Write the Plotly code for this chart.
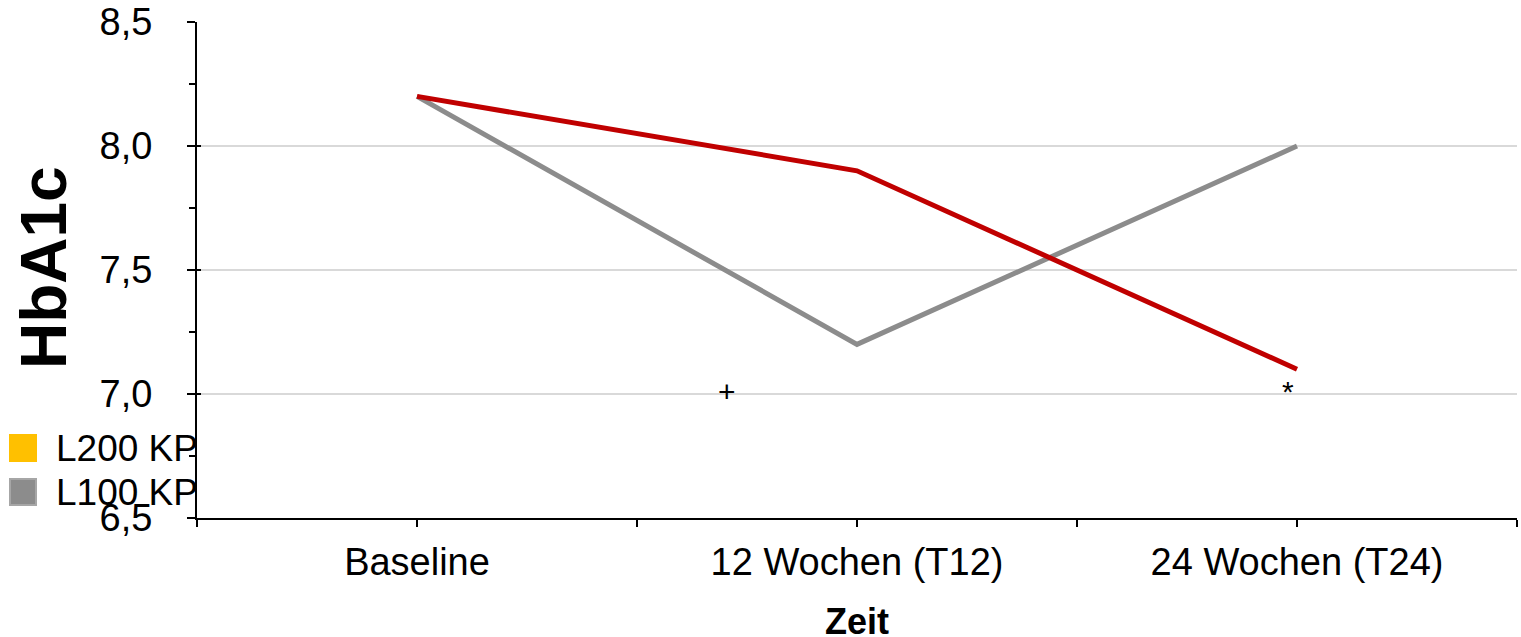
import plotly.graph_objects as go

# ---- data ----
categories = ["Baseline", "12 Wochen (T12)", "24 Wochen (T24)"]
l200_kp = [8.2, 7.9, 7.1]
l100_kp = [8.2, 7.2, 8.0]
legend_names = ["L200 KP", "L100 KP"]
legend_colors = ["#FFC000", "#8C8C8C"]
sig_marks = ["+", "*"]
sig_x = [0.705, 1.98]
sig_y = [7.0, 7.0]
y_ticks = [6.5, 7.0, 7.5, 8.0, 8.5]

W, H = 1521, 637
L, R, T, B = 197, 4, 22, 119
PW, PH = W - L - R, H - T - B

def px_x(px):
    return (px - L) / PW

def px_y(py):
    return (H - B - py) / PH

xs = list(range(len(categories)))
FONT = "Arial, Liberation Sans, sans-serif"

fig = go.Figure()
fig.add_trace(go.Scatter(x=xs, y=l100_kp, mode="lines", name="L100 KP",
                         line=dict(color="#8C8C8C", width=5), showlegend=False))
fig.add_trace(go.Scatter(x=xs, y=l200_kp, mode="lines", name="L200 KP",
                         line=dict(color="#C00000", width=5), showlegend=False))
# invisible trace to carry the inner tick axis
fig.add_trace(go.Scatter(x=[xs[0]], y=[l200_kp[0]], yaxis="y2", mode="markers",
                         marker=dict(opacity=0), showlegend=False, hoverinfo="skip"))

annotations = []
for m, x, y in zip(sig_marks, sig_x, sig_y):
    annotations.append(dict(x=x, y=y, xref="x", yref="y", text=m, showarrow=False,
                            xanchor="center", yanchor="middle",
                            font=dict(size=30, color="black", family=FONT),
                            yshift=3))

# axis titles
annotations.append(dict(x=px_x(44), y=px_y(268), xref="paper", yref="paper",
                        text="<b>HbA1c</b>", textangle=-90, showarrow=False,
                        xanchor="center", yanchor="middle",
                        font=dict(size=64, color="black", family=FONT)))
annotations.append(dict(x=px_x(857), y=px_y(621), xref="paper", yref="paper",
                        text="<b>Zeit</b>", showarrow=False,
                        xanchor="center", yanchor="middle",
                        font=dict(size=36, color="black", family=FONT)))

# manual legend
shapes = []
leg_y = [448, 492]
for name, col, cy in zip(legend_names, legend_colors, leg_y):
    shapes.append(dict(type="rect", xref="paper", yref="paper",
                       x0=px_x(10), x1=px_x(36), y0=px_y(cy + 13), y1=px_y(cy - 13),
                       fillcolor=col, line=dict(color=col if col == "#FFC000" else "#A6A6A6", width=2),
                       layer="above"))
    annotations.append(dict(x=px_x(54), y=px_y(cy), xref="paper", yref="paper",
                            text=name, showarrow=False, xanchor="left", yanchor="middle",
                            font=dict(size=37, color="black", family=FONT)))

fig.update_layout(
    width=W, height=H,
    margin=dict(l=L, r=R, t=T, b=B, autoexpand=False),
    plot_bgcolor="white", paper_bgcolor="white",
    showlegend=False,
    separators=",.",
    font=dict(family=FONT, color="black", size=38),
    annotations=annotations,
    shapes=shapes,
)
fig.update_xaxes(
    range=[-0.5, len(categories) - 0.5],
    tickvals=xs, ticktext=categories,
    showline=True, linecolor="black", linewidth=2,
    ticks="outside", ticklen=7, tickwidth=2, tickcolor="black",
    minor=dict(tick0=-0.5, dtick=1, ticks="outside", ticklen=7, tickwidth=2,
               tickcolor="black", showgrid=False),
    showgrid=False, zeroline=False,
    tickfont=dict(size=38, family=FONT, color="black"),
    ticklabelstandoff=2,
)
fig.update_layout(
    yaxis=dict(
        range=[6.5, 8.5], tickvals=y_ticks, tickformat=".1f",
        showline=True, linecolor="black", linewidth=2,
        ticks="outside", ticklen=8, tickwidth=2, tickcolor="black",
        minor=dict(dtick=0.25, ticks="outside", ticklen=6, tickwidth=2,
                   tickcolor="black", showgrid=False),
        showgrid=True, gridcolor="#D9D9D9", gridwidth=2, zeroline=False,
        tickfont=dict(size=38, family=FONT, color="black"),
        ticklabelstandoff=27,
    ),
    yaxis2=dict(
        overlaying="y", side="left", range=[6.5, 8.5], tickvals=y_ticks,
        ticks="inside", ticklen=4, tickwidth=2, tickcolor="black",
        showticklabels=False, showgrid=False, showline=False, zeroline=False,
    ),
)

fig.write_html("out.html")
